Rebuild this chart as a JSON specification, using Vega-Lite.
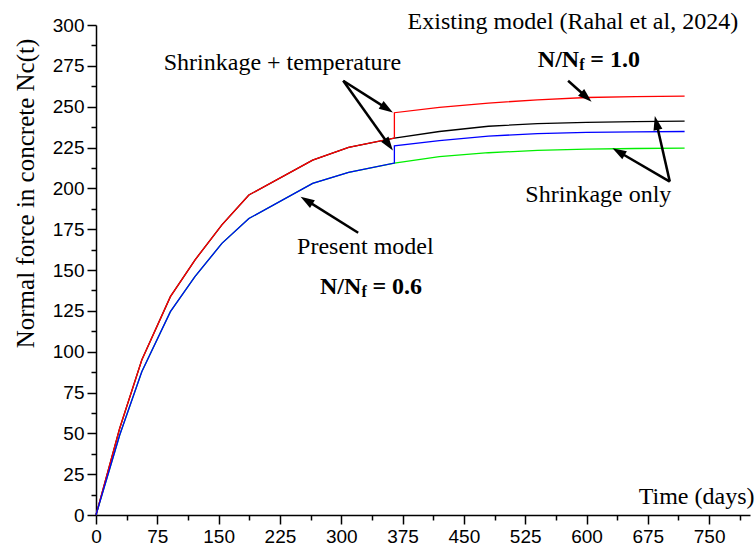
{
  "$schema": "https://vega.github.io/schema/vega-lite/v6.json",
  "width": 654,
  "height": 490,
  "autosize": {"type": "none"},
  "padding": {"left": 96, "top": 25, "right": 6, "bottom": 37},
  "background": "white",
  "config": {
    "view": {"stroke": null},
    "axis": {
      "grid": false,
      "domainColor": "black",
      "tickColor": "black",
      "labelColor": "black",
      "titleColor": "black",
      "labelFont": "Liberation Sans",
      "labelFontSize": 19,
      "titleFont": "Liberation Serif",
      "titleFontSize": 23,
      "titleFontWeight": "normal",
      "domainWidth": 1.5,
      "tickWidth": 1.5
    }
  },
  "datasets": {
    "curves": [
      {"s": "S_existing", "i": 0, "t": 0, "n": 0},
      {"s": "S_existing", "i": 1, "t": 29, "n": 53.1},
      {"s": "S_existing", "i": 2, "t": 56, "n": 94.9},
      {"s": "S_existing", "i": 3, "t": 91, "n": 133.7},
      {"s": "S_existing", "i": 4, "t": 121, "n": 156.1},
      {"s": "S_existing", "i": 5, "t": 154, "n": 177.6},
      {"s": "S_existing", "i": 6, "t": 187, "n": 195.9},
      {"s": "S_existing", "i": 7, "t": 265, "n": 217.3},
      {"s": "S_existing", "i": 8, "t": 309, "n": 225.1},
      {"s": "S_existing", "i": 9, "t": 365, "n": 230.8},
      {"s": "S_existing", "i": 10, "t": 420, "n": 234.8},
      {"s": "S_existing", "i": 11, "t": 480, "n": 238.0},
      {"s": "S_existing", "i": 12, "t": 540, "n": 239.6},
      {"s": "S_existing", "i": 13, "t": 600, "n": 240.4},
      {"s": "S_existing", "i": 14, "t": 660, "n": 240.9},
      {"s": "S_existing", "i": 15, "t": 720, "n": 241.2},
      {"s": "ST_existing", "i": 0, "t": 0, "n": 0},
      {"s": "ST_existing", "i": 1, "t": 29, "n": 53.1},
      {"s": "ST_existing", "i": 2, "t": 56, "n": 94.9},
      {"s": "ST_existing", "i": 3, "t": 91, "n": 133.7},
      {"s": "ST_existing", "i": 4, "t": 121, "n": 156.1},
      {"s": "ST_existing", "i": 5, "t": 154, "n": 177.6},
      {"s": "ST_existing", "i": 6, "t": 187, "n": 195.9},
      {"s": "ST_existing", "i": 7, "t": 265, "n": 217.3},
      {"s": "ST_existing", "i": 8, "t": 309, "n": 225.1},
      {"s": "ST_existing", "i": 9, "t": 365, "n": 230.8},
      {"s": "ST_existing", "i": 10, "t": 365, "n": 246.3},
      {"s": "ST_existing", "i": 11, "t": 420, "n": 249.6},
      {"s": "ST_existing", "i": 12, "t": 480, "n": 252.2},
      {"s": "ST_existing", "i": 13, "t": 540, "n": 254.2},
      {"s": "ST_existing", "i": 14, "t": 600, "n": 255.6},
      {"s": "ST_existing", "i": 15, "t": 660, "n": 256.2},
      {"s": "ST_existing", "i": 16, "t": 720, "n": 256.5},
      {"s": "S_present", "i": 0, "t": 0, "n": 0},
      {"s": "S_present", "i": 1, "t": 29, "n": 49.0},
      {"s": "S_present", "i": 2, "t": 56, "n": 87.7},
      {"s": "S_present", "i": 3, "t": 91, "n": 124.5},
      {"s": "S_present", "i": 4, "t": 121, "n": 145.9},
      {"s": "S_present", "i": 5, "t": 154, "n": 166.3},
      {"s": "S_present", "i": 6, "t": 187, "n": 181.5},
      {"s": "S_present", "i": 7, "t": 265, "n": 203.0},
      {"s": "S_present", "i": 8, "t": 309, "n": 209.8},
      {"s": "S_present", "i": 9, "t": 365, "n": 215.5},
      {"s": "S_present", "i": 10, "t": 420, "n": 219.4},
      {"s": "S_present", "i": 11, "t": 480, "n": 221.8},
      {"s": "S_present", "i": 12, "t": 540, "n": 223.2},
      {"s": "S_present", "i": 13, "t": 600, "n": 224.0},
      {"s": "S_present", "i": 14, "t": 660, "n": 224.4},
      {"s": "S_present", "i": 15, "t": 720, "n": 224.6},
      {"s": "ST_present", "i": 0, "t": 0, "n": 0},
      {"s": "ST_present", "i": 1, "t": 29, "n": 49.0},
      {"s": "ST_present", "i": 2, "t": 56, "n": 87.7},
      {"s": "ST_present", "i": 3, "t": 91, "n": 124.5},
      {"s": "ST_present", "i": 4, "t": 121, "n": 145.9},
      {"s": "ST_present", "i": 5, "t": 154, "n": 166.3},
      {"s": "ST_present", "i": 6, "t": 187, "n": 181.5},
      {"s": "ST_present", "i": 7, "t": 265, "n": 203.0},
      {"s": "ST_present", "i": 8, "t": 309, "n": 209.8},
      {"s": "ST_present", "i": 9, "t": 365, "n": 215.5},
      {"s": "ST_present", "i": 10, "t": 365, "n": 226.0},
      {"s": "ST_present", "i": 11, "t": 420, "n": 229.2},
      {"s": "ST_present", "i": 12, "t": 480, "n": 232.0},
      {"s": "ST_present", "i": 13, "t": 540, "n": 233.5},
      {"s": "ST_present", "i": 14, "t": 600, "n": 234.2},
      {"s": "ST_present", "i": 15, "t": 660, "n": 234.6},
      {"s": "ST_present", "i": 16, "t": 720, "n": 234.8}
    ],
    "arrows": [
      {"id": "A", "x": 302.4, "y": 265.9, "x2": 356.0, "y2": 248.8},
      {"id": "B", "x": 302.4, "y": 265.9, "x2": 358.2, "y2": 226.7},
      {"id": "C", "x": 577.5, "y": 265.9, "x2": 599.8, "y2": 255.9},
      {"id": "D", "x": 701.9, "y": 204.1, "x2": 685.5, "y2": 240.1},
      {"id": "E", "x": 701.9, "y": 204.1, "x2": 639.2, "y2": 222.4},
      {"id": "F", "x": 320.7, "y": 172.8, "x2": 257.5, "y2": 192.6}
    ],
    "notes": [
      {"label": "Shrinkage + temperature", "x": 228.1, "y": 276.7},
      {"label": "Present model", "x": 329.5, "y": 164.3},
      {"label": "Shrinkage only", "x": 614.5, "y": 195.9},
      {"label": "Existing model (Rahal et al, 2024)", "x": 583.3, "y": 302.0}
    ],
    "ratios": [
      {"x": 540.5, "y": 278.6, "a": "N/N", "b": "f", "c": "= 1.0"},
      {"x": 273.9, "y": 139.6, "a": "N/N", "b": "f", "c": "= 0.6"}
    ]
  },
  "layer": [
    {
      "data": {"name": "curves"},
      "transform": [{"filter": {"field": "s", "oneOf": ["S_existing", "S_present"]}}],
      "mark": {"type": "line", "strokeWidth": 1.3},
      "encoding": {
        "x": {"field": "t", "type": "quantitative", "scale": {"domain": [0, 800], "nice": false},
          "axis": {"orient": "bottom", "values": [37.5, 112.5, 187.5, 262.5, 337.5, 412.5, 487.5, 562.5, 637.5, 712.5, 787.5], "labels": false, "tickSize": 5, "domain": false, "title": null}},
        "y": {"field": "n", "type": "quantitative", "scale": {"domain": [0, 300], "nice": false},
          "axis": {"orient": "left", "values": [12.5, 37.5, 62.5, 87.5, 112.5, 137.5, 162.5, 187.5, 212.5, 237.5, 262.5, 287.5], "labels": false, "tickSize": 5, "domain": false, "title": null}},
        "color": {"field": "s", "type": "nominal", "scale": {"domain": ["S_existing", "S_present", "ST_existing", "ST_present"], "range": ["#000000", "#00ee00", "#ff0000", "#0000ff"]}, "legend": null},
        "order": {"field": "i", "type": "quantitative"}
      }
    },
    {
      "data": {"name": "curves"},
      "transform": [{"filter": {"field": "s", "oneOf": ["ST_existing", "ST_present"]}}],
      "mark": {"type": "line", "strokeWidth": 1.3},
      "encoding": {
        "x": {"field": "t", "type": "quantitative", "scale": {"domain": [0, 800], "nice": false},
          "axis": {"orient": "bottom", "values": [0, 75, 150, 225, 300, 375, 450, 525, 600, 675, 750], "tickSize": 9, "labelPadding": 3, "labelFlush": false, "title": "Time (days)", "titleAnchor": "end", "titleAlign": "right", "titleBaseline": "middle", "titleX": 658, "titleY": -19, "titleFontSize": 24}},
        "y": {"field": "n", "type": "quantitative", "scale": {"domain": [0, 300], "nice": false},
          "axis": {"orient": "left", "values": [0, 25, 50, 75, 100, 125, 150, 175, 200, 225, 250, 275, 300], "tickSize": 9, "labelPadding": 3, "labelFlush": false, "title": "Normal force in concrete Nc(t)", "titleAngle": 270, "titleAlign": "center", "titleBaseline": "middle", "titleX": -71, "titleY": 168, "titleFontSize": 25}},
        "color": {"field": "s", "type": "nominal", "legend": null},
        "order": {"field": "i", "type": "quantitative"}
      }
    },
    {
      "data": {"name": "arrows"},
      "mark": {"type": "rule", "strokeWidth": 2.5, "color": "black"},
      "encoding": {
        "x": {"field": "x", "type": "quantitative", "axis": null},
        "y": {"field": "y", "type": "quantitative", "axis": null},
        "x2": {"field": "x2"},
        "y2": {"field": "y2"}
      }
    },
    {
      "data": {"name": "arrows"},
      "transform": [{"filter": {"field": "id", "equal": "A"}}],
      "mark": {"type": "point", "shape": "M0,-1L0.65,1L-0.65,1Z", "filled": true, "opacity": 1, "color": "black", "size": 196, "angle": 122.6},
      "encoding": {"x": {"field": "x2", "type": "quantitative", "axis": null}, "y": {"field": "y2", "type": "quantitative", "axis": null}}
    },
    {
      "data": {"name": "arrows"},
      "transform": [{"filter": {"field": "id", "equal": "B"}}],
      "mark": {"type": "point", "shape": "M0,-1L0.65,1L-0.65,1Z", "filled": true, "opacity": 1, "color": "black", "size": 196, "angle": 144.5},
      "encoding": {"x": {"field": "x2", "type": "quantitative", "axis": null}, "y": {"field": "y2", "type": "quantitative", "axis": null}}
    },
    {
      "data": {"name": "arrows"},
      "transform": [{"filter": {"field": "id", "equal": "C"}}],
      "mark": {"type": "point", "shape": "M0,-1L0.65,1L-0.65,1Z", "filled": true, "opacity": 1, "color": "black", "size": 196, "angle": 131.9},
      "encoding": {"x": {"field": "x2", "type": "quantitative", "axis": null}, "y": {"field": "y2", "type": "quantitative", "axis": null}}
    },
    {
      "data": {"name": "arrows"},
      "transform": [{"filter": {"field": "id", "equal": "D"}}],
      "mark": {"type": "point", "shape": "M0,-1L0.65,1L-0.65,1Z", "filled": true, "opacity": 1, "color": "black", "size": 196, "angle": -12.9},
      "encoding": {"x": {"field": "x2", "type": "quantitative", "axis": null}, "y": {"field": "y2", "type": "quantitative", "axis": null}}
    },
    {
      "data": {"name": "arrows"},
      "transform": [{"filter": {"field": "id", "equal": "E"}}],
      "mark": {"type": "point", "shape": "M0,-1L0.65,1L-0.65,1Z", "filled": true, "opacity": 1, "color": "black", "size": 196, "angle": -59.8},
      "encoding": {"x": {"field": "x2", "type": "quantitative", "axis": null}, "y": {"field": "y2", "type": "quantitative", "axis": null}}
    },
    {
      "data": {"name": "arrows"},
      "transform": [{"filter": {"field": "id", "equal": "F"}}],
      "mark": {"type": "point", "shape": "M0,-1L0.65,1L-0.65,1Z", "filled": true, "opacity": 1, "color": "black", "size": 196, "angle": -58},
      "encoding": {"x": {"field": "x2", "type": "quantitative", "axis": null}, "y": {"field": "y2", "type": "quantitative", "axis": null}}
    },
    {
      "data": {"name": "notes"},
      "mark": {"type": "text", "font": "Liberation Serif", "fontSize": 24, "align": "center", "baseline": "middle", "color": "black"},
      "encoding": {
        "x": {"field": "x", "type": "quantitative", "axis": null},
        "y": {"field": "y", "type": "quantitative", "axis": null},
        "text": {"field": "label"}
      }
    },
    {
      "data": {"name": "ratios"},
      "mark": {"type": "text", "font": "Liberation Serif", "fontSize": 24, "fontWeight": "bold", "align": "left", "baseline": "middle", "color": "black"},
      "encoding": {
        "x": {"field": "x", "type": "quantitative", "axis": null},
        "y": {"field": "y", "type": "quantitative", "axis": null},
        "text": {"field": "a"}
      }
    },
    {
      "data": {"name": "ratios"},
      "mark": {"type": "text", "font": "Liberation Serif", "fontSize": 16, "fontWeight": "bold", "align": "left", "baseline": "middle", "color": "black", "dx": 41.5, "dy": 5},
      "encoding": {
        "x": {"field": "x", "type": "quantitative", "axis": null},
        "y": {"field": "y", "type": "quantitative", "axis": null},
        "text": {"field": "b"}
      }
    },
    {
      "data": {"name": "ratios"},
      "mark": {"type": "text", "font": "Liberation Serif", "fontSize": 24, "fontWeight": "bold", "align": "left", "baseline": "middle", "color": "black", "dx": 52.5},
      "encoding": {
        "x": {"field": "x", "type": "quantitative", "axis": null},
        "y": {"field": "y", "type": "quantitative", "axis": null},
        "text": {"field": "c"}
      }
    }
  ],
  "resolve": {"axis": {"x": "independent", "y": "independent"}}
}
